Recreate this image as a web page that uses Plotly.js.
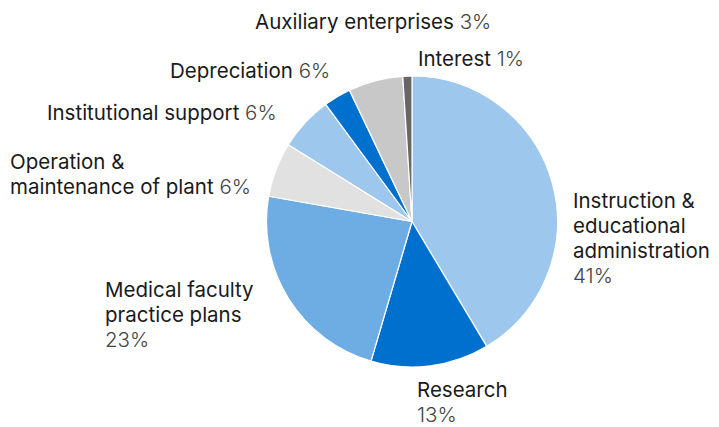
<!DOCTYPE html>
<html>
<head>
<meta charset="utf-8">
<script src="https://cdn.plot.ly/plotly-3.0.1.min.js"></script>
<style>html,body{margin:0;padding:0;background:#fff;}#chart{width:719px;height:427px;}</style>
</head>
<body>
<div id="chart"></div>
<script>
const categories = ["Instruction & educational administration", "Research", "Medical faculty practice plans", "Operation & maintenance of plant", "Institutional support", "Auxiliary enterprises", "Depreciation", "Interest"];
const values = [41, 13, 23, 6, 6, 3, 6, 1];
const labelLines = [
  ["Instruction &", "educational", "administration"],
  ["Research"],
  ["Medical faculty", "practice plans"],
  ["Operation &", "maintenance of plant"],
  ["Institutional support"],
  ["Auxiliary enterprises"],
  ["Depreciation"],
  ["Interest"]
];
const pctOnNewLine = [true, true, true, false, false, false, false, false];

const sliceColors = ["#9DC7EC", "#0070CE", "#6EADE3", "#E1E1E1", "#9DC7EC", "#0070CE", "#C8C8C8", "#666666"];
// label anchor: left x and vertical centre of first line, in pixels
const labelPos = [[572, 200], [416, 389], [104, 289], [9, 161], [46, 112], [254, 21], [169, 71], [417, 58]];
const lineStep = 25;

const W = 719, H = 427;
const cx = 412, cy = 221.5, r = 145.5;
const font = {family: 'Inter, "Open Sans", sans-serif', size: 20.5, color: '#1a1a1a'};

const annotations = [];
categories.forEach((c, i) => {
  const pct = '<span style="font-weight:300;color:#444">' + values[i] + '%</span>';
  const lines = labelLines[i].slice();
  if (pctOnNewLine[i]) lines.push(pct); else lines[lines.length - 1] += ' ' + pct;
  lines.forEach((t, k) => {
    annotations.push({
      text: t,
      xref: 'paper', yref: 'paper',
      x: labelPos[i][0] / W, y: 1 - (labelPos[i][1] + k * lineStep) / H,
      xanchor: 'left', yanchor: 'middle', align: 'left',
      showarrow: false, borderpad: 0,
      font: font
    });
  });
});

const data = [{
  type: 'pie',
  labels: categories,
  values: values,
  sort: false,
  direction: 'clockwise',
  rotation: 0,
  textinfo: 'none',
  hoverinfo: 'label+percent',
  marker: {colors: sliceColors, line: {color: '#ffffff', width: 1.2}},
  domain: {x: [(cx - r) / W, (cx + r) / W], y: [(H - cy - r) / H, (H - cy + r) / H]},
  showlegend: false
}];

const layout = {
  width: W, height: H,
  margin: {l: 0, r: 0, t: 0, b: 0},
  paper_bgcolor: '#ffffff',
  showlegend: false,
  annotations: annotations
};

Plotly.newPlot('chart', data, layout, {displayModeBar: false, staticPlot: true});
</script>
</body>
</html>
